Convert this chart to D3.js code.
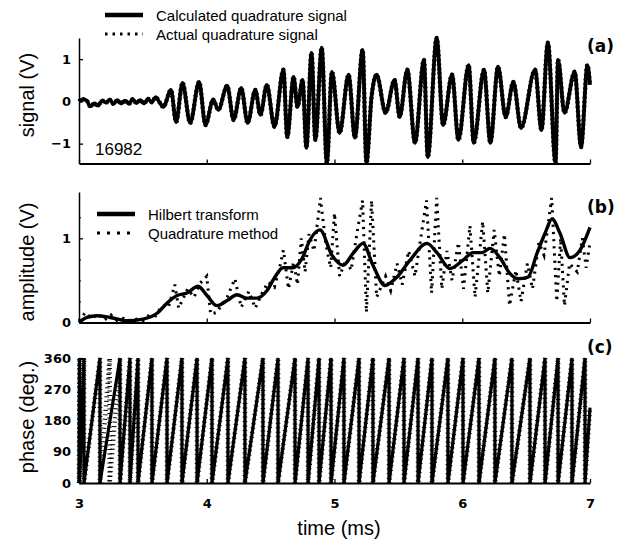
<!DOCTYPE html>
<html><head><meta charset="utf-8">
<script src="https://cdn.jsdelivr.net/npm/d3@7"></script>
<style>body{margin:0;background:#fff}svg{display:block}</style>
</head><body>
<svg id="c" width="629" height="544"></svg>
<script>
// ---- data ----
const timeTicks = [3, 4, 5, 6, 7];
const signalTicks = [-1, 0, 1];
const ampTicks = [0, 1];
const ampMinorTicks = [0.25, 0.5, 0.75, 1.25];
const phaseTicks = [0, 90, 180, 270, 360];

// (a) calculated quadrature signal [time ms, volts] (extrema)
const calcQuad = [[3.00,0.00],[3.03,0.05],[3.06,0.02],[3.09,-0.12],[3.12,-0.05],[3.15,-0.10],[3.18,0.02],[3.21,-0.03],[3.24,0.04],[3.27,-0.06],[3.30,0.03],[3.33,-0.05],[3.36,0.02],[3.39,-0.06],[3.42,0.05],[3.45,-0.04],[3.48,0.03],[3.51,-0.05],[3.54,0.06],[3.57,-0.02],[3.60,0.10],[3.63,-0.02],
[3.66,-0.13],[3.72,0.27],[3.76,-0.49],[3.81,0.44],[3.87,-0.51],[3.94,0.46],[3.99,-0.56],[4.05,0.04],[4.09,-0.20],[4.16,0.37],[4.21,-0.44],[4.27,0.32],[4.32,-0.51],[4.38,0.27],[4.42,-0.32],[4.47,0.39],[4.53,-0.60],[4.60,0.75],[4.63,-0.84],[4.68,0.58],[4.71,-0.13],[4.75,0.51],[4.78,-1.10],[4.82,1.15],[4.85,-0.91],[4.90,1.27],[4.94,-1.46],[4.98,0.70],[5.04,-0.75],[5.11,0.63],[5.16,-0.86],[5.22,1.22],[5.25,-1.46],[5.29,0.11],[5.33,0.63],[5.40,-0.27],[5.47,0.51],[5.51,-0.37],[5.57,0.75],[5.63,-0.98],[5.70,0.98],[5.73,-1.32],[5.80,1.50],[5.85,-0.56],[5.92,0.63],[5.97,-0.91],[6.05,0.86],[6.09,-0.98],[6.17,0.75],[6.22,-0.98],[6.28,0.82],[6.34,-0.37],[6.40,0.46],[6.46,-0.63],[6.57,0.75],[6.62,-0.68],[6.67,1.39],[6.73,-1.46],[6.75,0.98],[6.80,-0.27],[6.88,0.70],[6.93,-1.08],[6.98,0.86],[7.00,0.39]];
// actual quadrature signal overlaps the calculated one
const actualQuad = calcQuad;

// (b) amplitude
const hilbertAmp = [[3.000,0.00],[3.063,0.06],[3.141,0.08],[3.243,0.06],[3.376,0.02],[3.501,0.04],[3.611,0.11],[3.689,0.23],[3.767,0.32],[3.845,0.35],[3.932,0.43],[4.002,0.32],[4.080,0.20],[4.159,0.26],[4.237,0.33],[4.315,0.29],[4.393,0.29],[4.472,0.38],[4.534,0.54],[4.597,0.65],[4.675,0.65],[4.746,0.76],[4.808,0.98],[4.886,1.10],[4.980,0.80],[5.067,0.68],[5.145,0.82],[5.223,0.94],[5.301,0.68],[5.395,0.44],[5.489,0.54],[5.591,0.74],[5.724,0.94],[5.802,0.83],[5.904,0.64],[6.006,0.74],[6.084,0.83],[6.155,0.83],[6.217,0.88],[6.295,0.77],[6.374,0.58],[6.436,0.52],[6.515,0.54],[6.585,0.82],[6.648,1.06],[6.703,1.23],[6.765,1.06],[6.843,0.77],[6.922,0.86],[7.000,1.13]];
const quadAmp = [[3.00,0.02],[3.05,0.12],[3.10,0.05],[3.15,0.10],[3.20,0.03],[3.25,0.09],[3.30,0.02],[3.35,0.05],[3.40,0.01],[3.45,0.04],[3.50,0.02],[3.55,0.09],[3.60,0.08],[3.65,0.20],[3.70,0.18],[3.75,0.45],[3.78,0.17],[3.85,0.40],[3.90,0.30],[3.95,0.47],[4.00,0.55],[4.03,0.10],[4.08,0.12],[4.12,0.22],[4.16,0.30],[4.22,0.52],[4.27,0.18],[4.33,0.37],[4.38,0.17],[4.43,0.34],[4.48,0.48],[4.53,0.42],[4.57,0.65],[4.60,0.86],[4.64,0.40],[4.68,0.72],[4.71,0.45],[4.74,1.00],[4.77,0.60],[4.80,1.05],[4.84,0.85],[4.89,1.48],[4.93,0.95],[4.97,0.65],[5.00,1.30],[5.04,0.55],[5.09,0.75],[5.13,0.62],[5.18,1.10],[5.22,1.45],[5.25,0.12],[5.29,1.45],[5.33,0.30],[5.40,0.55],[5.44,0.38],[5.49,0.70],[5.53,0.45],[5.58,0.85],[5.63,0.55],[5.68,1.05],[5.72,1.45],[5.76,0.35],[5.80,1.48],[5.84,0.40],[5.88,0.85],[5.92,0.50],[5.97,0.95],[6.01,0.40],[6.06,1.15],[6.10,0.30],[6.16,1.20],[6.20,0.35],[6.25,1.10],[6.29,0.55],[6.33,1.05],[6.37,0.20],[6.42,0.62],[6.46,0.25],[6.51,0.70],[6.55,0.40],[6.60,0.95],[6.64,0.80],[6.70,1.48],[6.74,0.25],[6.77,1.00],[6.80,0.20],[6.84,0.70],[6.90,0.60],[6.94,1.00],[6.97,0.65],[7.00,0.95]];

// (c) phase: times (ms) where the phase wraps 360 -> 0
const hilbertWraps = [3.000,3.004,3.039,3.164,3.321,3.399,3.462,3.571,3.689,3.806,3.924,4.041,4.166,4.299,4.440,4.558,4.691,4.793,4.879,4.973,5.074,5.192,5.301,5.427,5.544,5.654,5.763,5.888,6.006,6.131,6.256,6.389,6.530,6.648,6.750,6.859,6.961];
const quadWraps = [3.000,3.004,3.039,3.164,3.240,3.321,3.399,3.462,3.571,3.689,3.806,3.924,4.041,4.166,4.299,4.440,4.558,4.691,4.793,4.879,4.973,5.074,5.192,5.301,5.427,5.544,5.654,5.763,5.888,6.006,6.131,6.256,6.389,6.530,6.648,6.750,6.859,6.961];
const endPhase = 217;

// ---- drawing ----
const svg = d3.select("#c");
svg.append("rect").attr("width",629).attr("height",544).attr("fill","#fff");
const x = d3.scaleLinear().domain([3,7]).range([79,590]);
const ya = d3.scaleLinear().domain([-1.47,1.5]).range([163.5,38]);
const yb = d3.scaleLinear().domain([0,1.55]).range([322.5,192]);
const yc = d3.scaleLinear().domain([0,360]).range([483,358]);

const tickFont = "'DejaVu Sans', sans-serif";
const labFont = "'Liberation Sans', Arial, sans-serif";

function drawAxes(y, yTicks, yBase, labelsX, minor) {
  const gx = svg.append("g").attr("transform",`translate(0,${yBase})`)
    .call(d3.axisBottom(x).tickValues(timeTicks).tickSizeInner(-4).tickSizeOuter(0).tickPadding(16).tickFormat(labelsX ? d3.format("d") : ""));
  gx.select(".domain").attr("stroke","#000").attr("stroke-width",2);
  gx.selectAll(".tick line").attr("stroke","#000").attr("stroke-width",1.3);
  gx.selectAll("text").attr("font-family",tickFont).attr("font-weight","bold").attr("font-size",13).attr("fill","#000");
  const gy = svg.append("g").attr("transform","translate(79,0)")
    .call(d3.axisLeft(y).tickValues(yTicks).tickSizeInner(-4).tickSizeOuter(0).tickPadding(8).tickFormat(d3.format("d")));
  gy.select(".domain").attr("stroke","#000").attr("stroke-width",1.5);
  gy.selectAll(".tick line").attr("stroke","#000").attr("stroke-width",1.3);
  gy.selectAll("text").attr("font-family",tickFont).attr("font-weight","bold").attr("font-size",13).attr("fill","#000");
  if (minor) {
    svg.append("g").attr("transform","translate(79,0)")
      .call(d3.axisLeft(y).tickValues(minor).tickSizeInner(-2).tickSizeOuter(0).tickFormat(""))
      .call(g=>{g.select(".domain").remove(); g.selectAll("line").attr("stroke","#000");});
  }
}

// panel (a)
drawAxes(ya, signalTicks, 163.5, false, null);
const lineA = d3.line().x(d=>x(d[0])).y(d=>ya(d[1])).curve(d3.curveMonotoneX);
svg.append("path").attr("d",lineA(actualQuad)).attr("fill","none").attr("stroke","#000")
  .attr("stroke-width",4.4).attr("stroke-dasharray","1.5,3");
svg.append("path").attr("d",lineA(calcQuad)).attr("fill","none").attr("stroke","#000")
  .attr("stroke-width",3.8).attr("stroke-linejoin","round");

// panel (b)
drawAxes(yb, ampTicks, 322.5, false, ampMinorTicks);
const lineBq = d3.line().x(d=>x(d[0])).y(d=>yb(d[1]));
const lineBh = d3.line().x(d=>x(d[0])).y(d=>yb(d[1])).curve(d3.curveMonotoneX);
svg.append("path").attr("d",lineBq(quadAmp)).attr("fill","none").attr("stroke","#000")
  .attr("stroke-width",3).attr("stroke-dasharray","2.2,5");
svg.append("path").attr("d",lineBh(hilbertAmp)).attr("fill","none").attr("stroke","#000")
  .attr("stroke-width",3.4).attr("stroke-linejoin","round");

// panel (c)
drawAxes(yc, phaseTicks, 483, true, null);
function sawPoints(w) {
  const pts = [];
  for (let i = 0; i < w.length - 1; i++) { pts.push([w[i],0]); pts.push([w[i+1],360]); }
  pts.push([w[w.length-1],0]); pts.push([7,endPhase]);
  return pts;
}
const lineC = d3.line().x(d=>x(d[0])).y(d=>yc(d[1]));
svg.append("path").attr("d",lineC(sawPoints(quadWraps))).attr("fill","none").attr("stroke","#000")
  .attr("stroke-width",4.6).attr("stroke-dasharray","1,3.5");
svg.append("path").attr("d",lineC(sawPoints(hilbertWraps))).attr("fill","none").attr("stroke","#000")
  .attr("stroke-width",3.2).attr("stroke-linejoin","miter");

// axis titles
function vtitle(txt, cy) {
  svg.append("text").attr("transform",`translate(34,${cy}) rotate(-90)`).attr("text-anchor","middle")
    .attr("font-family",labFont).attr("font-size",20).attr("fill","#000").text(txt);
}
vtitle("signal (V)", 95);
vtitle("amplitude (V)", 262);
vtitle("phase (deg.)", 417);
svg.append("text").attr("x",339).attr("y",535).attr("text-anchor","middle")
  .attr("font-family",labFont).attr("font-size",20).attr("fill","#000").text("time (ms)");

// panel letters
[["(a)",52],["(b)",213],["(c)",353]].forEach(([t,yy])=>{
  svg.append("text").attr("x",587).attr("y",yy).attr("font-family",tickFont).attr("font-weight","bold")
    .attr("font-size",17).attr("fill","#000").text(t);
});

// run id
svg.append("text").attr("x",95).attr("y",155).attr("font-family",labFont).attr("font-size",17)
  .attr("fill","#000").text("16982");

// legends
function legend(x1,x2,yy,dash,w,txt,ty) {
  const l = svg.append("line").attr("x1",x1).attr("x2",x2).attr("y1",yy).attr("y2",yy)
    .attr("stroke","#000").attr("stroke-width",w);
  if (dash) l.attr("stroke-dasharray",dash);
  svg.append("text").attr("x",x2+13).attr("y",ty).attr("font-family",labFont).attr("font-size",15)
    .attr("fill","#000").text(txt);
}
legend(105,143,15,null,4.5,"Calculated quadrature signal",20.5);
legend(105,143,34,"2.5,5",3,"Actual quadrature signal",40);
legend(97,135,214,null,4.5,"Hilbert transform",219.5);
legend(97,135,233,"3,7",3,"Quadrature method",238.5);
</script>
</body></html>
